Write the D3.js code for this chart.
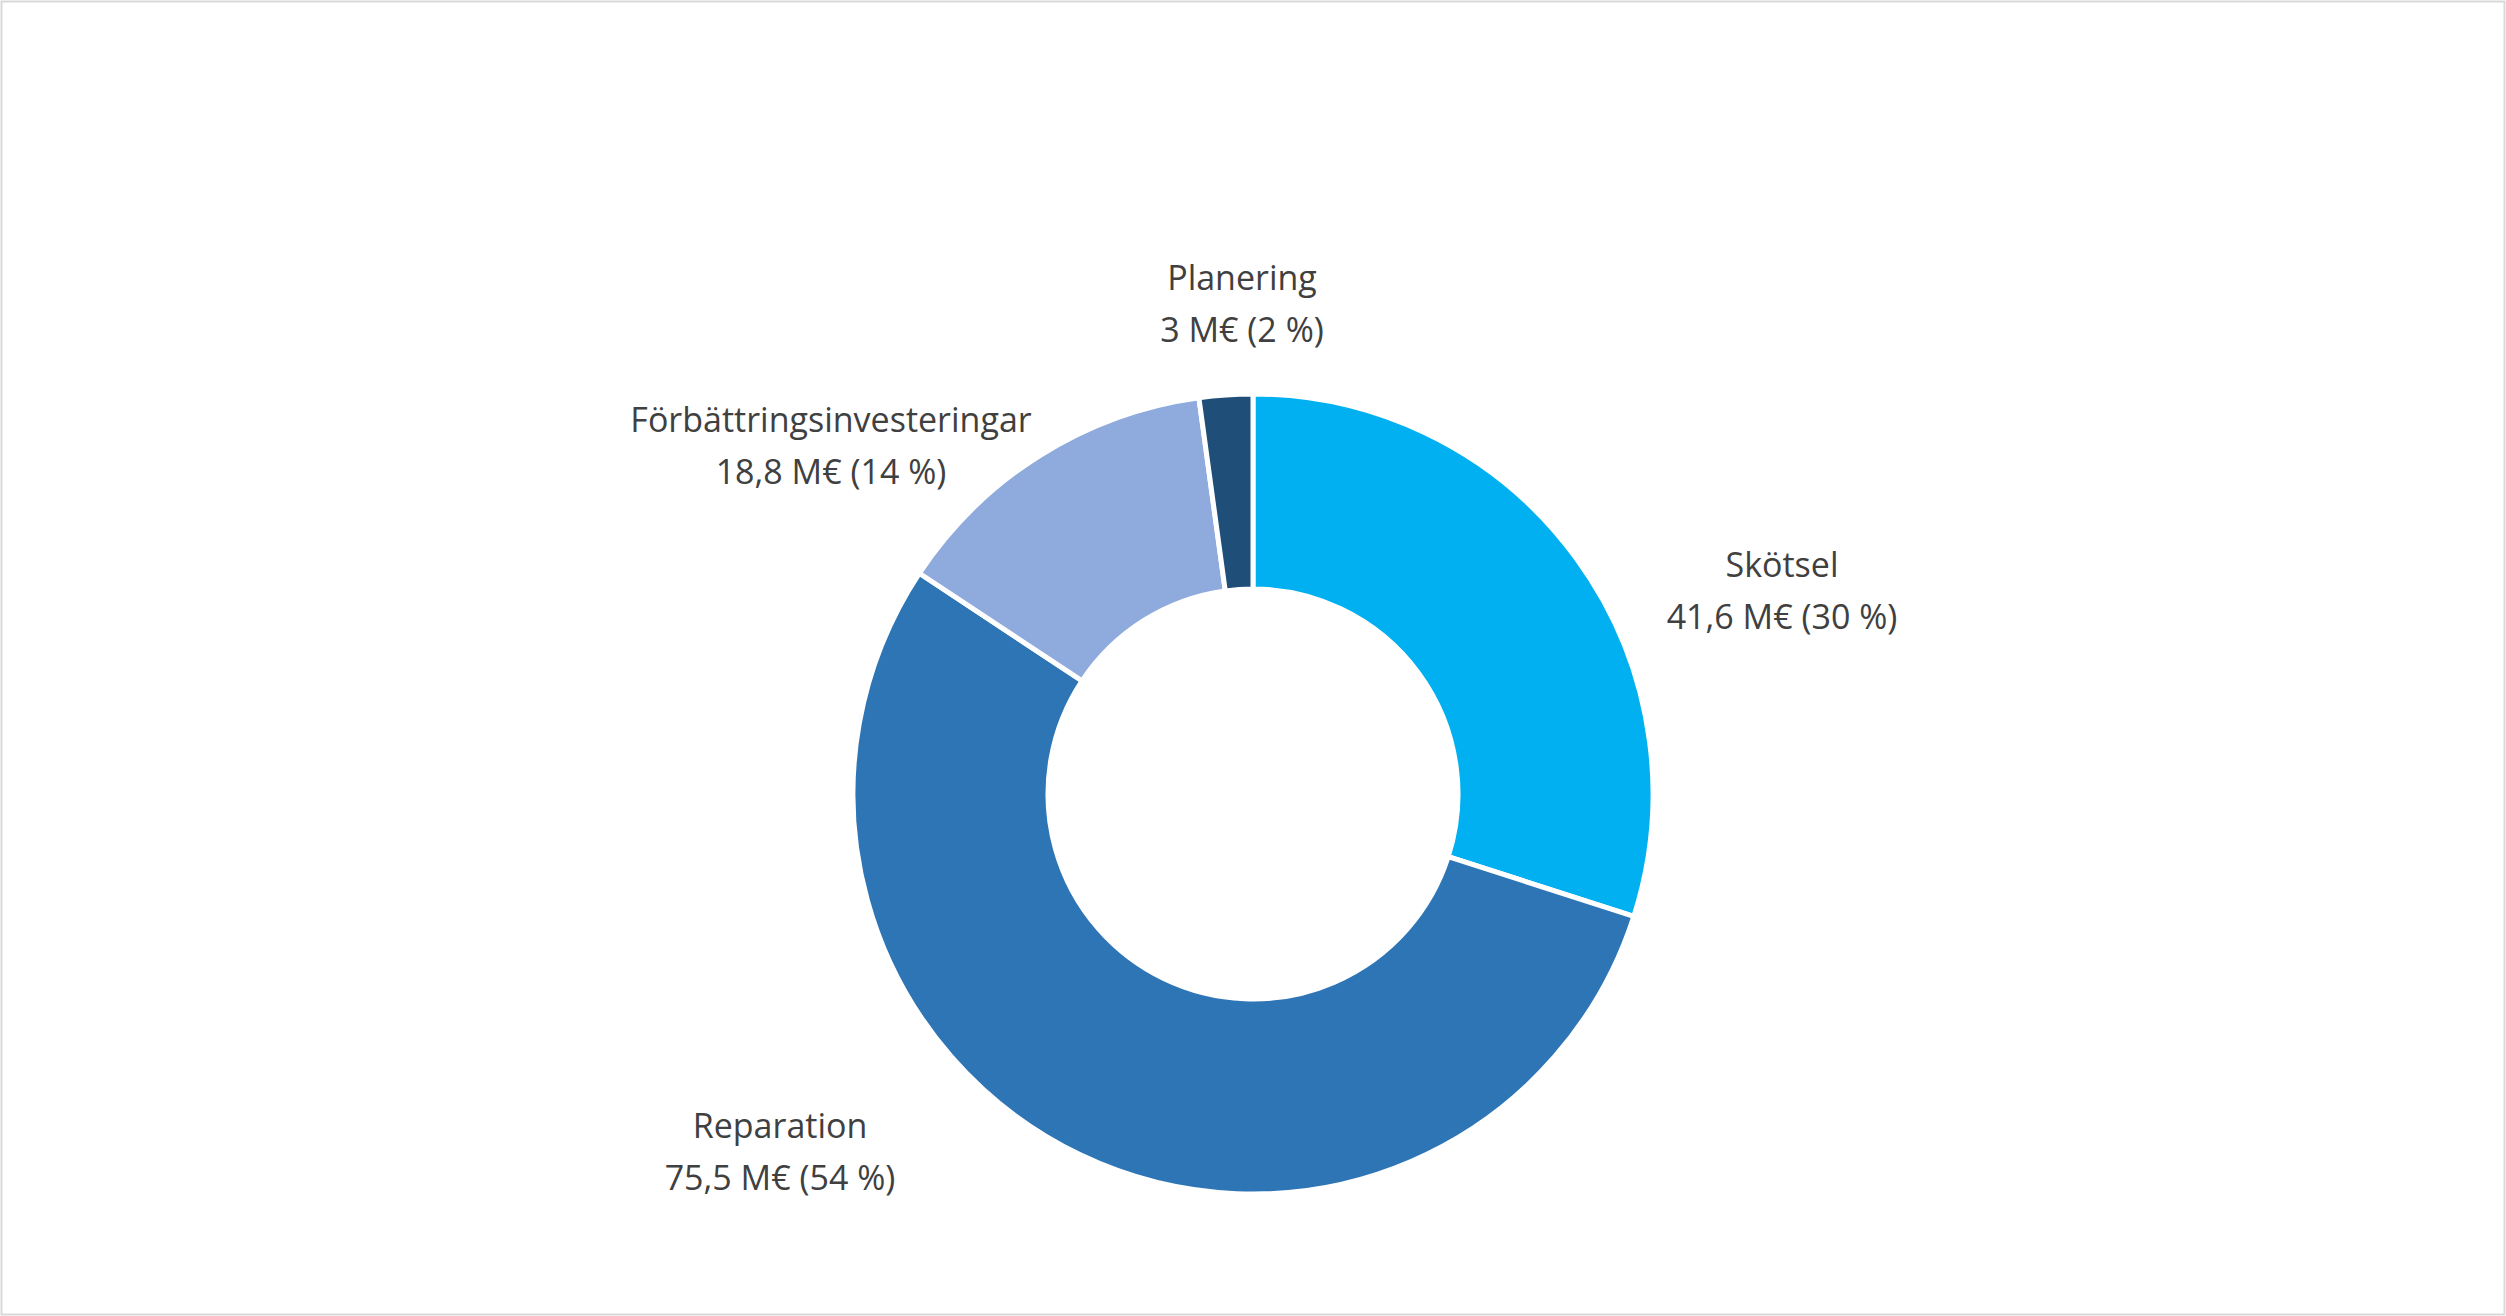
<!DOCTYPE html>
<html><head><meta charset="utf-8">
<script src="https://cdn.jsdelivr.net/npm/d3@7"></script>
<style>body{margin:0;background:#fff}</style>
</head><body>
<svg id="chart" width="2506" height="1316"></svg>
<script>
const categories = ["Skötsel", "Reparation", "Förbättringsinvesteringar", "Planering"];
const values = [41.6, 75.5, 18.8, 3];
const valueLabels = ["41,6 M€ (30 %)", "75,5 M€ (54 %)", "18,8 M€ (14 %)", "3 M€ (2 %)"];
const colors = ["#00B0F0", "#2E75B6", "#8FAADC", "#1F4E79"];
// label offsets from the centre (Excel-style placement)
const labelOffsets = [[529, -203], [-473, 358], [-422, -348], [-11, -490]];

const width = 2506, height = 1316;
const cx = 1253, cy = 794;
const outerR = 400, innerR = 205;

const svg = d3.select("#chart");
svg.append("rect")
  .attr("x", 1.5).attr("y", 1.5)
  .attr("width", width - 3).attr("height", height - 3)
  .attr("fill", "#fff").attr("stroke", "#d9d9d9").attr("stroke-width", 2);

const g = svg.append("g").attr("transform", `translate(${cx},${cy})`);

const pie = d3.pie().sort(null).value(d => d);
const arc = d3.arc().innerRadius(innerR).outerRadius(outerR);

g.selectAll("path")
  .data(pie(values))
  .join("path")
  .attr("d", arc)
  .attr("fill", (d, i) => colors[i])
  .attr("stroke", "#fff")
  .attr("stroke-width", 5);

const labels = g.selectAll(".lbl")
  .data(categories)
  .join("text")
  .attr("class", "lbl")
  .attr("text-anchor", "middle")
  .attr("font-family", "Open Sans, sans-serif")
  .attr("font-size", 34)
  .attr("fill", "#404040")
  .attr("transform", (d, i) => `translate(${labelOffsets[i][0]},${labelOffsets[i][1]})`);

labels.append("tspan").attr("x", 0).attr("y", -14).text(d => d);
labels.append("tspan").attr("x", 0).attr("y", 38).text((d, i) => valueLabels[i]);
</script>
</body></html>
